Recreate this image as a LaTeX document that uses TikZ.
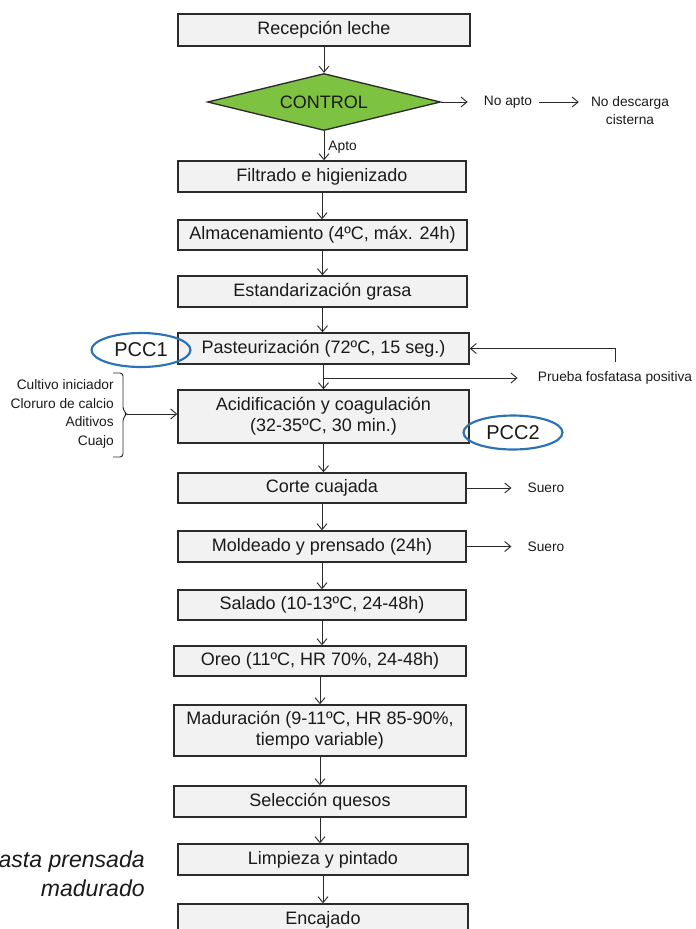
\documentclass[tikz,border=0pt]{standalone}
\usepackage{fontspec}
\setmainfont{Liberation Sans}
\usetikzlibrary{arrows.meta,shapes.geometric}
\newcommand\pxu{0.75pt}
\definecolor{boxfill}{HTML}{F2F2F2}
\definecolor{boxline}{HTML}{2B2B2B}
\definecolor{ctrlgreen}{HTML}{7EC242}
\definecolor{pccblue}{HTML}{2A72B8}
\definecolor{ink}{HTML}{1A1A1A}
\begin{document}
\begin{tikzpicture}[x=0.75pt,y=-0.75pt,
  every node/.style={text=ink},
  stepbox/.style={draw=boxline,fill=boxfill,line width=1pt,inner sep=0pt,
    align=center,font=\fontsize{13.5}{15.5}\selectfont},
  smalltxt/.style={inner sep=0pt,align=center,font=\fontsize{10.3}{13.5}\selectfont},
  pcc/.style={ellipse,draw=pccblue,line width=1.6pt,inner sep=0pt,
    minimum width=99*\pxu,minimum height=34*\pxu,font=\fontsize{15}{18}\selectfont},
  arr/.style={draw=boxline,line width=0.7pt,-{Straight Barb[length=4.5pt,width=7.5pt]}},
  ln/.style={draw=boxline,line width=0.7pt}]
\useasboundingbox (0,0) rectangle (696,929);
\clip (0,0) rectangle (696,929);

% main flow
\node[stepbox,minimum width=292*\pxu,minimum height=32*\pxu] (rec) at (324,30) {Recepción leche};
\node[diamond,draw=boxline,fill=ctrlgreen,line width=1pt,inner sep=0pt,aspect=4.1,
  minimum width=233*\pxu,minimum height=57*\pxu,font=\fontsize{13.5}{15.5}\selectfont] (ctrl) at (324,102) {CONTROL};
\node[stepbox,minimum width=288*\pxu,minimum height=31*\pxu] (filt) at (322,176.5) {Filtrado e higienizado};
\node[stepbox,minimum width=289*\pxu,minimum height=30*\pxu] (alm) at (322.5,235) {Almacenamiento (4ºC, máx. 24h)};
\node[stepbox,minimum width=289*\pxu,minimum height=31*\pxu] (est) at (322.5,291.5) {Estandarización grasa};
\node[stepbox,minimum width=291*\pxu,minimum height=31*\pxu] (past) at (323.5,348.5) {Pasteurización (72ºC, 15 seg.)};
\node[stepbox,minimum width=291*\pxu,minimum height=53*\pxu] (acid) at (323.5,416.5) {Acidificación y coagulación\\(32-35ºC, 30 min.)};
\node[stepbox,minimum width=288*\pxu,minimum height=30*\pxu] (corte) at (322,488) {Corte cuajada};
\node[stepbox,minimum width=288*\pxu,minimum height=31*\pxu] (mold) at (322,546.5) {Moldeado y prensado (24h)};
\node[stepbox,minimum width=288*\pxu,minimum height=30*\pxu] (sal) at (322,605) {Salado (10-13ºC, 24-48h)};
\node[stepbox,minimum width=292*\pxu,minimum height=30*\pxu] (oreo) at (320,661) {Oreo (11ºC, HR 70\%, 24-48h)};
\node[stepbox,minimum width=292*\pxu,minimum height=51*\pxu] (mad) at (320,730.5) {Maduración (9-11ºC, HR 85-90\%,\\tiempo variable)};
\node[stepbox,minimum width=292*\pxu,minimum height=31*\pxu] (sel) at (320,801.5) {Selección quesos};
\node[stepbox,minimum width=290*\pxu,minimum height=31*\pxu] (limp) at (323,859.5) {Limpieza y pintado};
\node[stepbox,minimum width=290*\pxu,minimum height=31*\pxu] (enc) at (323,919.5) {Encajado};

% vertical connectors
\draw[arr] (rec.south) -- (rec.south |- ctrl.north);
\draw[arr] (ctrl.south) -- node[smalltxt,right=3pt,yshift=-1pt] (apto) {Apto} (ctrl.south |- filt.north);
\draw[arr] (filt.south) -- (filt.south |- alm.north);
\draw[arr] (alm.south) -- (alm.south |- est.north);
\draw[arr] (est.south) -- (est.south |- past.north);
\draw[arr] (past.south) -- (past.south |- acid.north);
\draw[arr] (acid.south) -- (acid.south |- corte.north);
\draw[arr] (corte.south) -- (corte.south |- mold.north);
\draw[arr] (mold.south) -- (mold.south |- sal.north);
\draw[arr] (sal.south) -- (sal.south |- oreo.north);
\draw[arr] (oreo.south) -- (oreo.south |- mad.north);
\draw[arr] (mad.south) -- (mad.south |- sel.north);
\draw[arr] (sel.south) -- (sel.south |- limp.north);
\draw[arr] (limp.south) -- (limp.south |- enc.north);

% rejection branch
\node[smalltxt] (noapto) at (508,102) {No apto};
\node[smalltxt] (nodesc) at (630,111) {No descarga\\cisterna};
\draw[arr,shorten >=16*\pxu] (ctrl.east) -- (noapto.west);
\draw[arr,shorten <=7*\pxu,shorten >=12*\pxu] (noapto.east) -- (noapto.east -| nodesc.west);

% phosphatase test loop
\node[smalltxt] (prueba) at (615,378) {Prueba fosfatasa positiva};
\coordinate (br) at (323,378);
\draw[arr,shorten >=20*\pxu] (br) -- (prueba.west);
\draw[arr,shorten <=9*\pxu] (prueba.north) |- (past.east);

% ingredients and their bracket
\node[smalltxt,align=right,anchor=east,font=\fontsize{10.3}{13.8}\selectfont] (ingr) at (114,414) {Cultivo iniciador\\Cloruro de calcio\\Aditivos\\Cuajo};
\coordinate (brtip) at (127,414);
\draw[ln,rounded corners=3*\pxu] (113,373) -| (123,410) -- (brtip) -- (123,418) |- (113,457);
\draw[arr] (brtip) -- (acid.west |- brtip);

% whey outputs
\node[smalltxt] (suero1) at (546,488) {Suero};
\node[smalltxt] (suero2) at (546,546.5) {Suero};
\draw[arr,shorten >=16*\pxu] (corte.east) -- (suero1.west);
\draw[arr,shorten >=16*\pxu] (mold.east) -- (suero2.west);

% critical control points
\node[pcc] (pcc1) at (141,350) {PCC1};
\node[pcc] (pcc2) at (513,432.5) {PCC2};

% caption
\node[inner sep=0pt,anchor=east,align=right,font=\fontsize{17.3}{21.8}\selectfont\itshape] (cap) at (145,874) {asta prensada\\madurado};
\end{tikzpicture}
\end{document}
